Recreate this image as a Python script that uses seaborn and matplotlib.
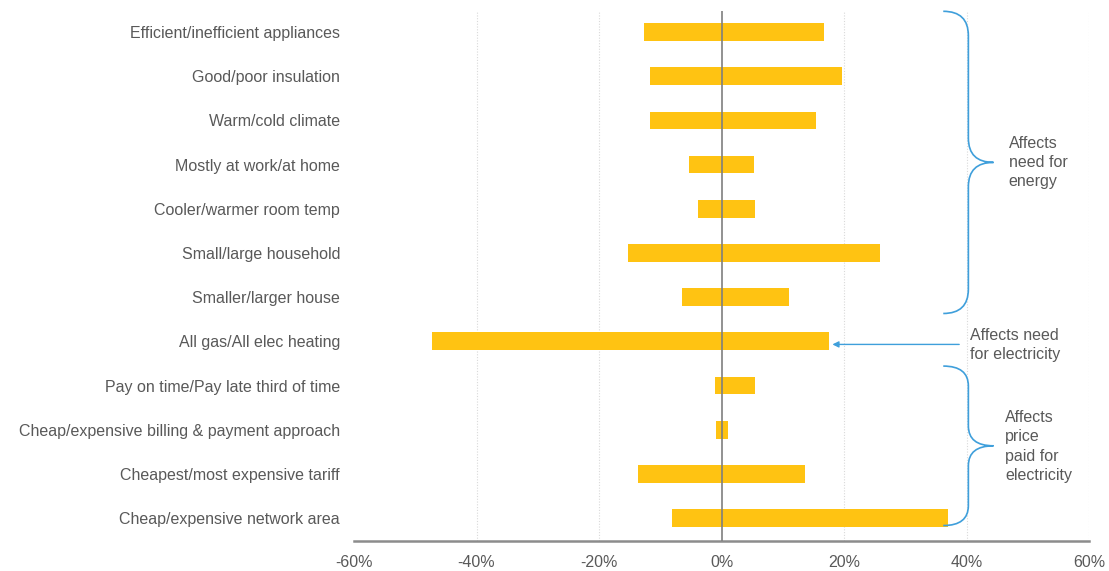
import matplotlib
matplotlib.use('Agg')
import matplotlib.pyplot as plt
from matplotlib.path import Path
from matplotlib.patches import PathPatch
import seaborn as sns
import pandas as pd

factors = [
    'Efficient/inefficient appliances',
    'Good/poor insulation',
    'Warm/cold climate',
    'Mostly at work/at home',
    'Cooler/warmer room temp',
    'Small/large household',
    'Smaller/larger house',
    'All gas/All elec heating',
    'Pay on time/Pay late third of time',
    'Cheap/expensive billing & payment approach',
    'Cheapest/most expensive tariff',
    'Cheap/expensive network area',
]
low = [-12.7, -11.7, -11.7, -5.3, -3.9, -15.2, -6.5, -47.2, -1.1, -0.9, -13.7, -8.1]
high = [16.8, 19.6, 15.5, 5.3, 5.5, 25.8, 11.0, 17.6, 5.4, 1.1, 13.7, 37.0]
xticks = [-60, -40, -20, 0, 20, 40, 60]

df = pd.DataFrame({'factor': factors, 'low': low, 'high': high})

sns.set_style('white')
plt.rcParams['font.family'] = ['Liberation Sans', 'DejaVu Sans']

BAR = '#FFC312'
BLUE = '#3F9FDB'
GREY = '#595959'
FS = 11.5

fig = plt.figure(figsize=(11.09, 5.71), dpi=100)
ax = fig.add_axes([0.3192, 0.0525, 0.6628, 0.9285])

sns.barplot(data=df, x='high', y='factor', color=BAR, width=0.4,
            saturation=1, ax=ax, edgecolor='none')
sns.barplot(data=df, x='low', y='factor', color=BAR, width=0.4,
            saturation=1, ax=ax, edgecolor='none')

ax.set_xlim(-60, 60)
ax.set_ylim(11.52, -0.48)
ax.set_xticks(xticks)
ax.set_xticklabels([f'{t}%' for t in xticks], color=GREY, fontsize=FS)
ax.tick_params(axis='y', labelsize=FS, labelcolor=GREY, length=0, pad=10)
ax.tick_params(axis='x', length=0, pad=10)
ax.set_xlabel('')
ax.set_ylabel('')

for t in xticks:
    if t not in (0, -60):
        ax.axvline(t, color='#d9d9d9', lw=0.8, ls=(0, (1, 1.5)), zorder=0)
ax.axvline(0, color='#7f7f7f', lw=1.2, zorder=5)

for s in ['left', 'right', 'top']:
    ax.spines[s].set_visible(False)
ax.spines['bottom'].set_color('#8c8c8c')
ax.spines['bottom'].set_linewidth(1.8)


def brace(ax, y0, y1, xt, xv, xm, r=0.55):
    ym = (y0 + y1) / 2
    verts = [(xt, y0), (xv, y0), (xv, y0 + r),
             (xv, ym - r), (xv, ym), (xm, ym),
             (xv, ym), (xv, ym + r),
             (xv, y1 - r), (xv, y1), (xt, y1)]
    codes = [Path.MOVETO, Path.CURVE3, Path.CURVE3,
             Path.LINETO, Path.CURVE3, Path.CURVE3,
             Path.CURVE3, Path.CURVE3,
             Path.LINETO, Path.CURVE3, Path.CURVE3]
    ax.add_patch(PathPatch(Path(verts, codes), fill=False, edgecolor=BLUE,
                           lw=1.2, clip_on=False, zorder=6))


brace(ax, -0.47, 6.37, 36.2, 40.3, 44.4)
brace(ax, 7.56, 11.17, 36.2, 40.3, 44.4, r=0.45)

ax.text(46.9, 2.95, 'Affects\nneed for\nenergy', fontsize=FS, color=GREY,
        va='center', ha='left', linespacing=1.35, clip_on=False)
ax.text(40.6, 7.08, 'Affects need\nfor electricity', fontsize=FS, color=GREY,
        va='center', ha='left', linespacing=1.35, clip_on=False)
ax.text(46.3, 9.38, 'Affects\nprice\npaid for\nelectricity', fontsize=FS,
        color=GREY, va='center', ha='left', linespacing=1.35, clip_on=False)

ax.annotate('', xy=(high[7] + 0.5, 7.07), xytext=(38.8, 7.07),
            arrowprops=dict(arrowstyle='-|>', color=BLUE, lw=1.0,
                            mutation_scale=9, shrinkA=0, shrinkB=0),
            annotation_clip=False)

fig.savefig('out.png', dpi=100)
